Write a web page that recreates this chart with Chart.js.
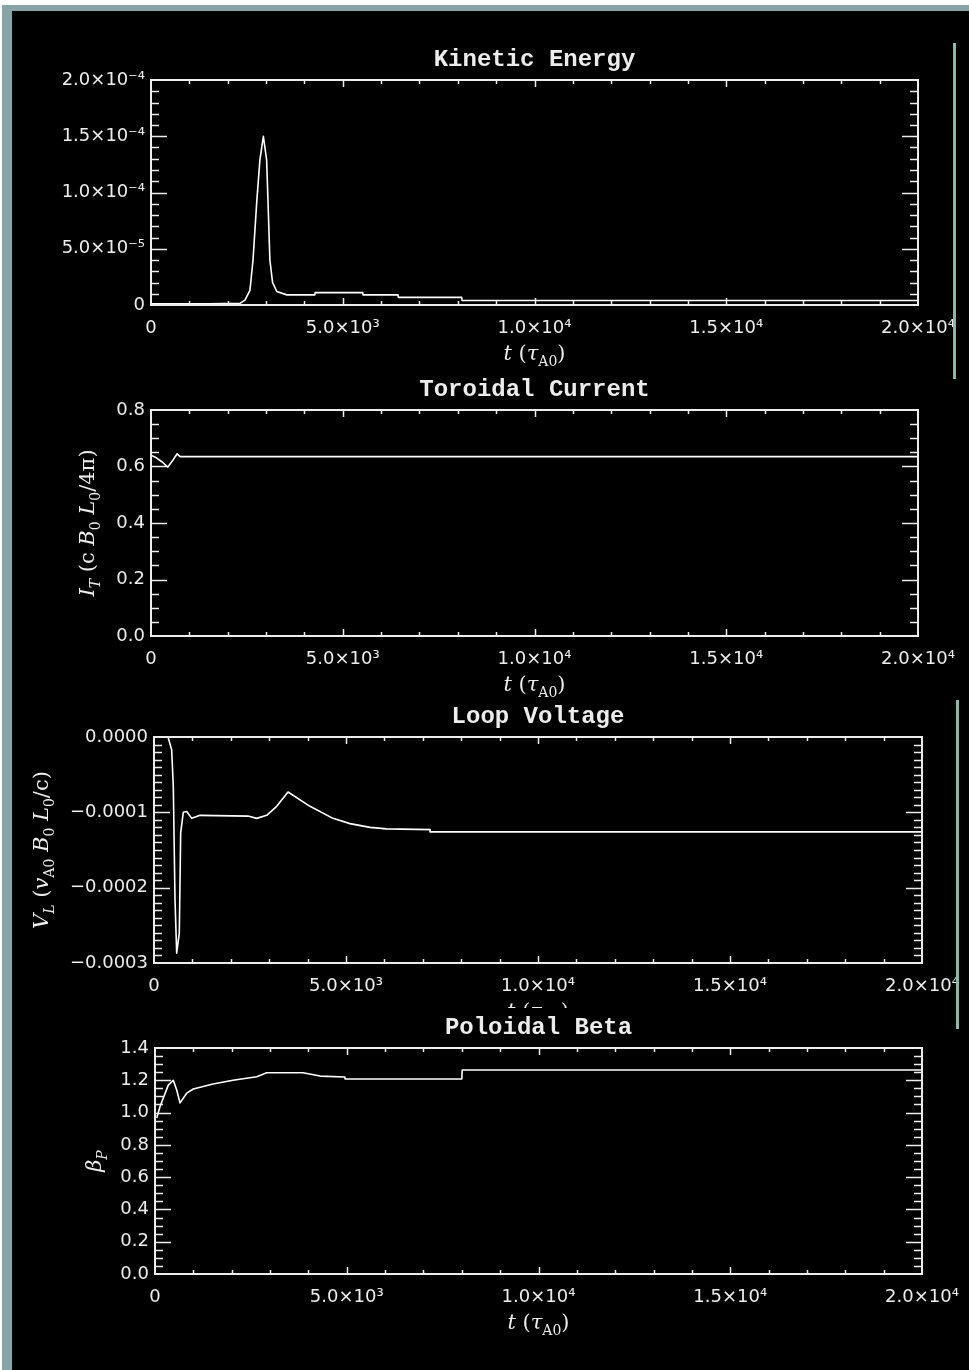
<!DOCTYPE html>
<html lang="en">
<head>
    <meta charset="UTF-8">
    <title>Kinetic Energy, Toroidal Current, Loop Voltage, Poloidal Beta</title>
    <style>
        body {
            margin: 0;
            background-color: #ffffff;
        }
        .frame {
            position: absolute;
            left: 2px;
            top: 5px;
            width: 967px;
            height: 1365px;
            background-color: #87a5a7;
        }
        .inner {
            position: absolute;
            left: 12px;
            top: 11px;
            width: 957px;
            height: 1359px;
            background-color: #000;
        }
        canvas {
            position: absolute;
            background-color: #000;
        }
        .edge {
            position: absolute;
            width: 3px;
            background-color: #8db6ab;
            z-index: 5;
        }
    </style>
    <script src="https://cdn.jsdelivr.net/npm/chart.js"></script>
</head>
<body>
    <div class="frame"></div>
    <div class="inner"></div>
    <canvas id="keChart" width="942" height="344" style="left:12px; top:36px;"></canvas>
    <canvas id="itChart" width="951" height="330" style="left:12px; top:372px;"></canvas>
    <canvas id="vlChart" width="945" height="330" style="left:12px; top:700px;"></canvas>
    <canvas id="bpChart" width="950" height="362" style="left:12px; top:1008px;"></canvas>
    <div class="edge" style="left:953px; top:43px; height:336px;"></div>
    <div class="edge" style="left:956px; top:700px; height:329px;"></div>

    <script>
        // time axis shared by all panels
        const timeTicks = [0, 5000, 10000, 15000, 20000];
        const timeTickLabels = ['0', '5.0×10³', '1.0×10⁴', '1.5×10⁴', '2.0×10⁴'];

        // Kinetic Energy
        const keTime = [0, 500, 1500, 2320, 2450, 2580, 2660, 2760, 2840, 2930, 3015, 3050, 3100, 3170, 3280, 3540, 4270, 4280, 5520, 5530, 6440, 6450, 8100, 8110, 20000];
        const keValues = [1.0e-6, 1.0e-6, 1.0e-6, 1.5e-6, 4.4e-6, 1.3e-5, 4.0e-5, 9.3e-5, 1.29e-4, 1.5e-4, 1.29e-4, 9.3e-5, 4.0e-5, 2.0e-5, 1.2e-5, 9.0e-6, 9.0e-6, 1.1e-5, 1.1e-5, 9.0e-6, 9.0e-6, 6.8e-6, 6.8e-6, 4.0e-6, 4.0e-6];
        const keTicks = [0, 5e-5, 1e-4, 1.5e-4, 2e-4];
        const keTickLabels = ['0', '5.0×10⁻⁵', '1.0×10⁻⁴', '1.5×10⁻⁴', '2.0×10⁻⁴'];

        // Toroidal Current
        const itTime = [0, 150, 300, 440, 560, 680, 760, 20000];
        const itValues = [0.64, 0.63, 0.615, 0.598, 0.62, 0.645, 0.635, 0.635];
        const itTicks = [0, 0.2, 0.4, 0.6, 0.8];
        const itTickLabels = ['0.0', '0.2', '0.4', '0.6', '0.8'];

        // Loop Voltage
        const vlTime = [365, 460, 503, 547, 591, 659, 695, 763, 852, 982, 1198, 2448, 2674, 2935, 3195, 3490, 4063, 4661, 5104, 5625, 6060, 7188, 7190, 20000];
        const vlValues = [0, -1.7e-5, -6.6e-5, -2.16e-4, -2.87e-4, -2.6e-4, -1.27e-4, -1.0e-4, -0.99e-4, -1.08e-4, -1.04e-4, -1.05e-4, -1.08e-4, -1.04e-4, -0.92e-4, -0.73e-4, -0.92e-4, -1.08e-4, -1.15e-4, -1.2e-4, -1.22e-4, -1.23e-4, -1.26e-4, -1.26e-4];
        const vlTicks = [-3e-4, -2e-4, -1e-4, 0];
        const vlTickLabels = ['−0.0003', '−0.0002', '−0.0001', '0.0000'];

        // Poloidal Beta
        const bpTime = [44, 130, 216, 347, 477, 566, 652, 827, 999, 1512, 2034, 2652, 2913, 3859, 4302, 4950, 4960, 8000, 8010, 20000];
        const bpValues = [0.966, 1.036, 1.09, 1.17, 1.2, 1.14, 1.06, 1.12, 1.146, 1.177, 1.2, 1.222, 1.247, 1.247, 1.226, 1.22, 1.208, 1.208, 1.264, 1.264];
        const bpTicks = [0, 0.2, 0.4, 0.6, 0.8, 1.0, 1.2, 1.4];
        const bpTickLabels = ['0.0', '0.2', '0.4', '0.6', '0.8', '1.0', '1.2', '1.4'];

        const timeTitle = [{ t: 't', it: true }, { t: ' (' }, { t: 'τ', it: true }, { t: 'A0', sub: true }, { t: ')' }];

        const ink = '#ececec';
        const tickFont = { family: 'DejaVu Sans', size: 18 };

        // draws text pieces with italics and subscripts, centred on the origin
        function drawRich(ctx, segs, size) {
            const fontOf = s => (s.it ? 'italic ' : '') + (s.sub ? Math.round(size * 0.65) : size) + 'px "DejaVu Serif"';
            let w = 0;
            segs.forEach(s => { ctx.font = fontOf(s); w += ctx.measureText(s.t).width; });
            let x = -w / 2;
            ctx.textAlign = 'left';
            ctx.textBaseline = 'middle';
            segs.forEach(s => {
                ctx.font = fontOf(s);
                ctx.fillText(s.t, x, s.sub ? size * 0.35 : 0);
                x += ctx.measureText(s.t).width;
            });
        }

        // IDL style box, inward ticks and titles
        const idlFrame = {
            id: 'idlFrame',
            afterDraw(chart, args, o) {
                const { ctx, chartArea: a, scales: { x, y } } = chart;
                ctx.save();
                ctx.strokeStyle = ink;
                ctx.fillStyle = ink;
                ctx.lineWidth = 2;
                ctx.strokeRect(a.left, a.top, a.right - a.left, a.bottom - a.top);

                ctx.lineWidth = 1.5;
                ctx.beginPath();
                const nx = Math.round((x.max - x.min) / o.xMinor);
                for (let i = 1; i < nx; i++) {
                    const px = Math.round(x.getPixelForValue(x.min + i * o.xMinor)) + 0.5;
                    const len = i % o.xPer === 0 ? 7 : 4;
                    ctx.moveTo(px, a.bottom); ctx.lineTo(px, a.bottom - len);
                    ctx.moveTo(px, a.top); ctx.lineTo(px, a.top + len);
                }
                const ny = Math.round((y.max - y.min) / o.yMinor);
                for (let i = 1; i < ny; i++) {
                    const py = Math.round(y.getPixelForValue(y.min + i * o.yMinor)) + 0.5;
                    const len = i % o.yPer === 0 ? 16 : 8;
                    ctx.moveTo(a.left, py); ctx.lineTo(a.left + len, py);
                    ctx.moveTo(a.right, py); ctx.lineTo(a.right - len, py);
                }
                ctx.stroke();

                // panel title
                ctx.font = 'bold 24px "Liberation Mono"';
                ctx.textAlign = 'center';
                ctx.textBaseline = 'middle';
                ctx.fillText(o.title, (a.left + a.right) / 2, a.top - o.titleGap);

                // x title
                ctx.save();
                ctx.translate((a.left + a.right) / 2, a.bottom + 50);
                drawRich(ctx, timeTitle, 21);
                ctx.restore();

                // y title
                if (o.yTitle) {
                    ctx.save();
                    ctx.translate(o.yTitleX, (a.top + a.bottom) / 2);
                    ctx.rotate(-Math.PI / 2);
                    drawRich(ctx, o.yTitle, 21);
                    ctx.restore();
                }
                ctx.restore();
            }
        };

        function makePanel(id, time, values, cfg) {
            new Chart(document.getElementById(id), {
                type: 'line',
                data: {
                    datasets: [{
                        data: time.map((t, i) => ({ x: t, y: values[i] })),
                        borderColor: '#ffffff',
                        borderWidth: 1.6,
                        borderJoinStyle: 'round',
                        pointRadius: 0,
                        tension: 0
                    }]
                },
                options: {
                    responsive: false,
                    animation: false,
                    events: [],
                    layout: { padding: { top: cfg.padTop, right: cfg.padRight, left: 0, bottom: 0 } },
                    plugins: {
                        legend: { display: false },
                        tooltip: { enabled: false },
                        idlFrame: cfg.frame
                    },
                    scales: {
                        x: {
                            type: 'linear',
                            min: 0,
                            max: 20000,
                            grid: { display: false, drawTicks: false },
                            border: { display: false },
                            afterBuildTicks: s => { s.ticks = timeTicks.map(v => ({ value: v })); },
                            afterFit: s => { s.height = cfg.xHeight; s.paddingLeft = 0; s.paddingRight = 0; },
                            ticks: {
                                callback: (v, i) => timeTickLabels[i],
                                color: ink,
                                font: tickFont,
                                padding: 13,
                                maxRotation: 0,
                                autoSkip: false
                            }
                        },
                        y: {
                            type: 'linear',
                            min: cfg.yTicks[0],
                            max: cfg.yTicks[cfg.yTicks.length - 1],
                            grid: { display: false, drawTicks: false },
                            border: { display: false },
                            afterBuildTicks: s => { s.ticks = cfg.yTicks.map(v => ({ value: v })); },
                            afterFit: s => { s.width = cfg.yWidth; s.paddingTop = 0; s.paddingBottom = 0; },
                            ticks: {
                                callback: (v, i) => cfg.yLabels[i],
                                color: ink,
                                font: tickFont,
                                padding: 6,
                                autoSkip: false
                            }
                        }
                    }
                },
                plugins: [idlFrame]
            });
        }

        makePanel('keChart', keTime, keValues, {
            padTop: 44, padRight: 36, xHeight: 75, yWidth: 139,
            yTicks: keTicks, yLabels: keTickLabels,
            frame: { title: 'Kinetic Energy', titleGap: 20, xMinor: 1000, xPer: 5, yMinor: 1e-5, yPer: 5 }
        });

        makePanel('itChart', itTime, itValues, {
            padTop: 38, padRight: 45, xHeight: 66, yWidth: 139,
            yTicks: itTicks, yLabels: itTickLabels,
            frame: {
                title: 'Toroidal Current', titleGap: 20, xMinor: 1000, xPer: 5, yMinor: 0.05, yPer: 4,
                yTitleX: 77,
                yTitle: [{ t: 'I', it: true }, { t: 'T', it: true, sub: true }, { t: ' (c ' }, { t: 'B', it: true }, { t: '0', sub: true },
                    { t: ' ' }, { t: 'L', it: true }, { t: '0', sub: true }, { t: '/4π)' }]
            }
        });

        makePanel('vlChart', vlTime, vlValues, {
            padTop: 37, padRight: 35, xHeight: 67, yWidth: 142,
            yTicks: vlTicks, yLabels: vlTickLabels,
            frame: {
                title: 'Loop Voltage', titleGap: 20, xMinor: 1000, xPer: 5, yMinor: 1e-5, yPer: 10,
                yTitleX: 31,
                yTitle: [{ t: 'V', it: true }, { t: 'L', it: true, sub: true }, { t: ' (' }, { t: 'v', it: true }, { t: 'A0', sub: true },
                    { t: ' ' }, { t: 'B', it: true }, { t: '0', sub: true }, { t: ' ' }, { t: 'L', it: true }, { t: '0', sub: true }, { t: '/c)' }]
            }
        });

        makePanel('bpChart', bpTime, bpValues, {
            padTop: 40, padRight: 40, xHeight: 96, yWidth: 143,
            yTicks: bpTicks, yLabels: bpTickLabels,
            frame: {
                title: 'Poloidal Beta', titleGap: 20, xMinor: 1000, xPer: 5, yMinor: 0.05, yPer: 4,
                yTitleX: 84,
                yTitle: [{ t: 'β', it: true }, { t: 'P', it: true, sub: true }]
            }
        });
    </script>
</body>
</html>
